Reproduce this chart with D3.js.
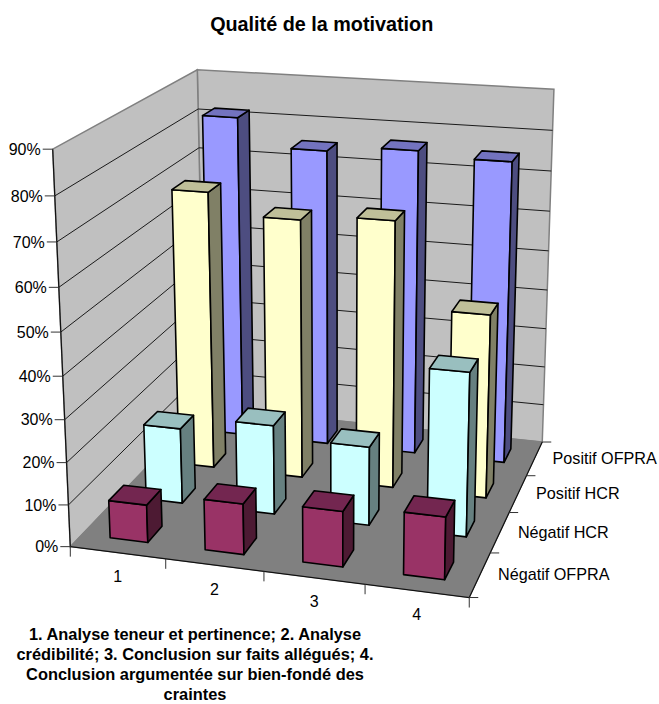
<!DOCTYPE html>
<html>
<head>
<meta charset="utf-8">
<script src="https://cdn.jsdelivr.net/npm/d3@7/dist/d3.min.js"></script>
<style>
html,body{margin:0;padding:0;background:#fff}
svg{display:block}
text{font-family:"Liberation Sans",Arial,sans-serif;fill:#000}
</style>
</head>
<body>
<svg id="chart" width="659" height="704"></svg>
<script>
// Chart content
const chartTitle = "Qualité de la motivation";
const captionLines = [
  "1. Analyse teneur et pertinence; 2. Analyse",
  "crédibilité; 3. Conclusion sur faits allégués; 4.",
  "Conclusion argumentée sur bien-fondé des",
  "craintes"
];
const categories = ["1", "2", "3", "4"];
const seriesNames = ["Négatif OFPRA", "Négatif HCR", "Positif HCR", "Positif OFPRA"];
const negatifOfpra = [9, 12, 13, 14.5];
const negatifHcr = [18.5, 21.7, 19, 39];
const positifHcr = [69, 64, 65.5, 45];
const positifOfpra = [82, 75.2, 76.7, 75.5];
const seriesValues = [negatifOfpra, negatifHcr, positifHcr, positifOfpra];
const valueTicks = [0, 10, 20, 30, 40, 50, 60, 70, 80, 90];

// Face colours for each series: front, top, side
const seriesFaces = [
  ["#993366", "#732650", "#4d1a33"],
  ["#ccffff", "#99bfbf", "#668080"],
  ["#ffffcc", "#bfbf99", "#808066"],
  ["#9999ff", "#7373bf", "#4d4d80"]
];

// Camera reference points: [category pos, depth pos, height in tens of %, screen x, screen y]
const cameraPoints = [
  [0,0,0,71,546],[0,0,1,68.1,505],[0,0,2,66.7,462.7],[0,0,3,64.3,420],
  [0,0,6,59.3,287.3],[0,0,7,56.7,242.3],[0,0,8,55,196],[0,0,9,52.7,148.7],
  [1,0,0,165.7,559.3],[2,0,0,263.3,571.7],[3,0,0,364.3,584.3],[4,0,0,468,597],
  [4,1,0,492,552.7],[4,2,0,510,512.7],[4,3,0,527,475.7],[4,4,0,542,441.7],
  [4,4,2,545,367],[4,4,5,547.7,251],[4,4,6,549,211.7],[4,4,7,550.7,171],[4,4,8,552.7,130.3],[4,4,9,555,89],
  [0,4,9,197.7,69.3],[0,4,8,198.3,109.3],[0,4,7,198.3,147.7]
];

// Least-squares fit of a 3x4 projective camera
function fitCamera(points) {
  const n = 11;
  const A = d3.range(n).map(() => new Array(n + 1).fill(0));
  const addRow = (row, rhs) => {
    for (let i = 0; i < n; i++) {
      for (let j = 0; j < n; j++) A[i][j] += row[i] * row[j];
      A[i][n] += row[i] * rhs;
    }
  };
  for (const [X, Y, Z, u, v] of points) {
    addRow([X, Y, Z, 1, 0, 0, 0, 0, -u * X, -u * Y, -u * Z], u);
    addRow([0, 0, 0, 0, X, Y, Z, 1, -v * X, -v * Y, -v * Z], v);
  }
  for (let c = 0; c < n; c++) {
    let p = c;
    for (let r = c + 1; r < n; r++) if (Math.abs(A[r][c]) > Math.abs(A[p][c])) p = r;
    [A[c], A[p]] = [A[p], A[c]];
    for (let r = 0; r < n; r++) {
      if (r === c) continue;
      const f = A[r][c] / A[c][c];
      for (let k = c; k <= n; k++) A[r][k] -= f * A[c][k];
    }
  }
  return A.map((row, i) => row[n] / row[i]);
}
const m = fitCamera(cameraPoints);
const project = (x, d, z) => {
  const w = m[8] * x + m[9] * d + m[10] * z + 1;
  return [(m[0] * x + m[1] * d + m[2] * z + m[3]) / w,
          (m[4] * x + m[5] * d + m[6] * z + m[7]) / w];
};

// Scales into the chart box
const xBand = d3.scaleBand().domain(categories).range([0, 4]).paddingInner(0.6).paddingOuter(0.3);
const dBand = d3.scaleBand().domain(seriesNames).range([0, 4]).paddingInner(0.6).paddingOuter(0.3);
const xEdge = d3.scaleBand().domain(categories).range([0, 4]);
const dEdge = d3.scaleBand().domain(seriesNames).range([0, 4]);
const zScale = d3.scaleLinear().domain([0, 90]).range([0, 9]);
const pt = (x, d, val) => project(x, d, zScale(val));
const poly = pts => d3.line()(pts) + "Z";

const svg = d3.select("#chart");
const X0 = 0, X1 = 4, D0 = 0, D1 = 4, Vmax = d3.max(valueTicks);

// Walls and floor
svg.append("path").attr("d", poly([pt(X0,D1,0), pt(X1,D1,0), pt(X1,D1,Vmax), pt(X0,D1,Vmax)]))
  .attr("fill", "#c0c0c0").attr("stroke", "#808080").attr("stroke-width", 1.5);
svg.append("path").attr("d", poly([pt(X0,D0,0), pt(X0,D1,0), pt(X0,D1,Vmax), pt(X0,D0,Vmax)]))
  .attr("fill", "#c0c0c0").attr("stroke", "#808080").attr("stroke-width", 1.5);
svg.append("path").attr("d", poly([pt(X0,D0,0), pt(X1,D0,0), pt(X1,D1,0), pt(X0,D1,0)]))
  .attr("fill", "#808080").attr("stroke", "#808080");

// Gridlines along both walls
const inner = valueTicks.filter(v => v > 0 && v < Vmax);
svg.append("g").selectAll("path").data(inner).join("path")
  .attr("d", v => d3.line()([pt(X0,D0,v), pt(X0,D1,v), pt(X1,D1,v)]))
  .attr("fill", "none").attr("stroke", "#1a1a1a").attr("stroke-width", 1);

// Axis lines
const axisPath = pts => svg.append("path").attr("d", d3.line()(pts))
  .attr("fill", "none").attr("stroke", "#111").attr("stroke-width", 1.2);
axisPath([pt(X0,D0,0), pt(X0,D0,Vmax)]);
axisPath([pt(X0,D0,0), pt(X1,D0,0), pt(X1,D1,0)]);

// Value axis
const valueAxis = svg.append("g").selectAll("g").data(valueTicks).join("g")
  .attr("transform", v => `translate(${pt(X0,D0,v)})`);
valueAxis.append("line").attr("x1", -10).attr("x2", 0).attr("stroke", "#333").attr("stroke-width", 1);
valueAxis.append("text").attr("x", -12).attr("dy", "0.35em").attr("text-anchor", "end")
  .attr("font-size", 16).text(v => v + "%");

// Category axis
svg.append("g").selectAll("line").data(d3.range(0, 5)).join("line")
  .attr("x1", i => pt(i,D0,0)[0]).attr("y1", i => pt(i,D0,0)[1])
  .attr("x2", i => pt(i,D0,0)[0]).attr("y2", i => pt(i,D0,0)[1] + 10)
  .attr("stroke", "#333");
svg.append("g").selectAll("text").data(categories).join("text")
  .attr("text-anchor", "middle").attr("font-size", 16)
  .attr("x", c => pt(xEdge(c) + xEdge.bandwidth() / 2, D0, 0)[0])
  .attr("y", c => pt(xEdge(c) + xEdge.bandwidth() / 2, D0, 0)[1] + 24)
  .attr("dy", "0.35em").text(c => c);

// Depth axis
svg.append("g").selectAll("line").data(d3.range(0, 5)).join("line")
  .attr("x1", i => pt(X1,i,0)[0]).attr("y1", i => pt(X1,i,0)[1])
  .attr("x2", i => pt(X1,i,0)[0] + 9).attr("y2", i => pt(X1,i,0)[1])
  .attr("stroke", "#333");
svg.append("g").selectAll("text").data(seriesNames).join("text")
  .attr("font-size", 16.2)
  .attr("x", s => pt(X1, dEdge(s) + dEdge.bandwidth() / 2, 0)[0] + 18)
  .attr("y", s => pt(X1, dEdge(s) + dEdge.bandwidth() / 2, 0)[1])
  .attr("dy", "0.35em").text(s => s);

// Bars, painted from the back row forward
const bars = [];
seriesNames.forEach((s, si) => categories.forEach((c, ci) =>
  bars.push({ s, si, c, ci, v: seriesValues[si][ci] })));
bars.sort((a, b) => d3.descending(a.si, b.si) || d3.ascending(a.ci, b.ci));

const barG = svg.append("g").selectAll("g").data(bars).join("g")
  .attr("stroke", "#000").attr("stroke-width", 1.6).attr("stroke-linejoin", "round");
const edges = b => {
  const x0 = xBand(b.c), x1 = x0 + xBand.bandwidth();
  const d0 = dBand(b.s), d1 = d0 + dBand.bandwidth();
  return { x0, x1, d0, d1 };
};
barG.append("path").attr("fill", b => seriesFaces[b.si][0]).attr("d", b => {
  const e = edges(b);
  return poly([pt(e.x0,e.d0,0), pt(e.x1,e.d0,0), pt(e.x1,e.d0,b.v), pt(e.x0,e.d0,b.v)]);
});
barG.append("path").attr("fill", b => seriesFaces[b.si][2]).attr("d", b => {
  const e = edges(b);
  return poly([pt(e.x1,e.d0,0), pt(e.x1,e.d1,0), pt(e.x1,e.d1,b.v), pt(e.x1,e.d0,b.v)]);
});
barG.append("path").attr("fill", b => seriesFaces[b.si][1]).attr("d", b => {
  const e = edges(b);
  return poly([pt(e.x0,e.d0,b.v), pt(e.x1,e.d0,b.v), pt(e.x1,e.d1,b.v), pt(e.x0,e.d1,b.v)]);
});

// Title and caption
svg.append("text").attr("x", 321.7).attr("y", 31).attr("text-anchor", "middle")
  .attr("font-size", 19.8).attr("font-weight", "bold").text(chartTitle);
svg.append("g").selectAll("text").data(captionLines).join("text")
  .attr("x", 195).attr("y", (d, i) => 639.5 + i * 20.3).attr("text-anchor", "middle")
  .attr("font-size", 16.4).attr("font-weight", "bold").text(d => d);
</script>
</body>
</html>
